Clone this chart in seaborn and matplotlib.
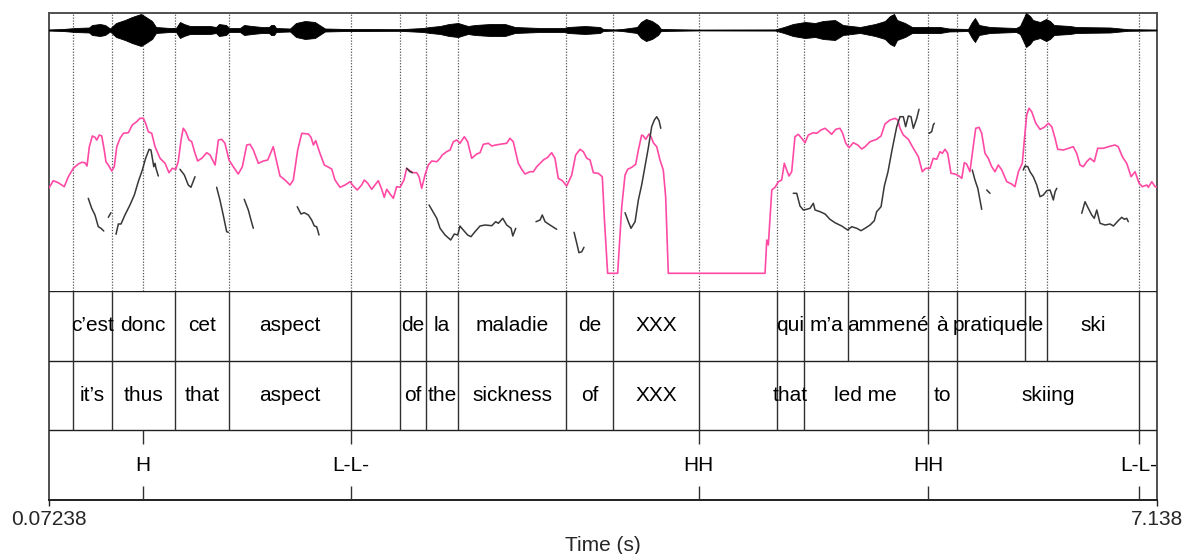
import numpy as np
import pandas as pd
import matplotlib
matplotlib.use("Agg")
import matplotlib.pyplot as plt
import seaborn as sns

# ---------------- data ----------------
T_START, T_END = 0.07238, 7.138

# French word tier (boundaries, s) and labels of the intervals between them
fr_bounds = [0.2287, 0.4730, 0.8755, 1.2199, 1.9988, 2.3107, 2.4772, 2.6845, 3.3728,
             3.6732, 4.2167, 4.7149, 4.8877, 5.1722, 5.6800, 5.8650, 6.2987, 6.4384, 7.0265]
fr_labels = ["", "c\u2019est", "donc", "cet", "aspect", "", "de", "la", "maladie", "de",
             "XXX", "", "qui", "m\u2019a", "ammené", "à", "pratique", "le", "ski", ""]

# English gloss tier
en_bounds = [0.2287, 0.4730, 0.8755, 1.2199, 1.9988, 2.3107, 2.4772, 2.6845, 3.3728,
             3.6732, 4.2167, 4.7149, 4.8877, 5.6800, 5.8650, 7.0265]
en_labels = ["", "it\u2019s", "thus", "that", "aspect", "", "of", "the", "sickness", "of",
             "XXX", "", "that", "led me", "to", "skiing", ""]

# Tone tier (points)
tone_times = [0.6752, 1.9988, 4.2167, 5.6800, 7.0265]
tone_labels = ["H", "L-L-", "HH", "HH", "L-L-"]

# Waveform amplitude envelope (arbitrary units)
wave_t = [0.0724, 0.163, 0.240, 0.329, 0.348, 0.399, 0.431, 0.463, 0.501, 0.558, 0.603,
          0.641, 0.661, 0.692, 0.731, 0.756, 0.845, 0.884, 0.909, 0.935, 0.973, 1.101,
          1.139, 1.158, 1.203, 1.222, 1.292, 1.318, 1.369, 1.432, 1.477, 1.490, 1.509,
          1.522, 1.611, 1.649, 1.707, 1.770, 1.809, 1.834, 1.968, 2.313, 2.338, 2.459,
          2.504, 2.568, 2.625, 2.683, 2.746, 2.791, 2.887, 2.982, 3.046, 3.206, 3.359,
          3.384, 3.493, 3.588, 3.608, 3.684, 3.729, 3.824, 3.850, 3.882, 3.920, 3.958,
          3.977, 4.226, 4.705, 4.762, 4.819, 4.896, 4.960, 5.011, 5.087, 5.138, 5.247,
          5.343, 5.406, 5.438, 5.464, 5.483, 5.534, 5.579, 5.674, 5.757, 5.815, 5.936,
          5.961, 5.980, 6.006, 6.076, 6.242, 6.267, 6.306, 6.331, 6.350, 6.395, 6.433,
          6.459, 6.484, 6.586, 6.625, 6.842, 6.956, 7.138]
wave_amp = [0.5, 1, 2, 2.5, 5, 6, 5, 1.5, 7, 10, 13,
            15, 16, 13, 9, 3, 2, 2, 8, 6, 4, 4,
            3, 6, 5, 2, 2, 5, 4, 3, 3, 5, 5,
            2, 1.5, 7, 9, 8, 4, 1.5, 1, 0.8, 1, 2,
            3, 4, 6, 7, 4, 5, 6, 6, 3, 2, 2,
            3, 4, 3, 1, 0.5, 1, 3, 8, 11, 9, 5,
            1, 0.3, 0.5, 3, 6, 8, 7, 9, 10, 5, 3,
            6, 9, 14, 16, 10, 7, 3, 3, 3, 1.5, 1,
            8, 12, 5, 3, 2, 4, 17, 14, 10, 8, 11,
            9, 5, 4, 3, 2.5, 0.8, 0.4]

# Smoothed pitch contour (pink), arbitrary level units
pink_t = [0.0724, 0.101, 0.133, 0.171, 0.197, 0.229, 0.261, 0.282, 0.303, 0.316, 0.331,
          0.350, 0.367, 0.378, 0.395, 0.410, 0.426, 0.437, 0.452, 0.474, 0.490, 0.506,
          0.527, 0.548, 0.580, 0.605, 0.633, 0.654, 0.675, 0.690, 0.707, 0.729, 0.750,
          0.782, 0.814, 0.839, 0.860, 0.882, 0.898, 0.916, 0.930, 0.946, 0.967, 0.984,
          1.005, 1.022, 1.048, 1.080, 1.101, 1.133, 1.154, 1.175, 1.196, 1.222, 1.249,
          1.281, 1.307, 1.335, 1.356, 1.377, 1.409, 1.441, 1.469, 1.504, 1.526, 1.547,
          1.579, 1.611, 1.632, 1.660, 1.686, 1.728, 1.745, 1.760, 1.775, 1.802, 1.830,
          1.877, 1.898, 1.930, 1.962, 1.994, 2.015, 2.040, 2.068, 2.085, 2.107, 2.132,
          2.153, 2.174, 2.196, 2.212, 2.228, 2.249, 2.270, 2.291, 2.313, 2.338, 2.355,
          2.376, 2.397, 2.419, 2.434, 2.451, 2.472, 2.493, 2.515, 2.547, 2.568, 2.582,
          2.610, 2.632, 2.653, 2.674, 2.695, 2.723, 2.744, 2.770, 2.802, 2.823, 2.844,
          2.876, 2.898, 2.923, 2.961, 2.993, 3.014, 3.035, 3.067, 3.089, 3.110, 3.142,
          3.163, 3.185, 3.206, 3.227, 3.255, 3.280, 3.301, 3.322, 3.348, 3.376, 3.408,
          3.433, 3.461, 3.482, 3.504, 3.525, 3.546, 3.577, 3.603, 3.616, 3.637, 3.701,
          3.727, 3.748, 3.765, 3.791, 3.816, 3.833, 3.854, 3.865, 3.880, 3.901, 3.914,
          3.928, 3.950, 3.971, 3.992, 4.007, 4.024, 4.641, 4.652, 4.662, 4.673, 4.684,
          4.705, 4.726, 4.747, 4.764, 4.779, 4.794, 4.811, 4.832, 4.853, 4.875, 4.896,
          4.917, 4.949, 4.971, 4.998, 5.024, 5.049, 5.066, 5.092, 5.119, 5.136, 5.156,
          5.177, 5.204, 5.232, 5.258, 5.279, 5.311, 5.353, 5.381, 5.406, 5.438, 5.470,
          5.487, 5.502, 5.523, 5.555, 5.587, 5.619, 5.644, 5.666, 5.693, 5.714, 5.736,
          5.757, 5.772, 5.789, 5.806, 5.827, 5.853, 5.878, 5.896, 5.912, 5.927, 5.948,
          5.966, 5.985, 6.006, 6.023, 6.044, 6.065, 6.087, 6.108, 6.129, 6.151, 6.183,
          6.214, 6.235, 6.257, 6.282, 6.295, 6.310, 6.325, 6.342, 6.368, 6.395, 6.422,
          6.448, 6.470, 6.491, 6.508, 6.544, 6.576, 6.607, 6.629, 6.650, 6.671, 6.693,
          6.714, 6.741, 6.763, 6.799, 6.831, 6.873, 6.894, 6.920, 6.948, 6.976, 7.001,
          7.027, 7.048, 7.076, 7.086, 7.108, 7.129, 7.138]
pink_v = [102.7, 110.3, 108.3, 104.3, 114.3, 122.7, 127, 128.7, 128.3, 125, 144.3,
          155, 153.7, 151, 156, 155, 141, 129.3, 126, 120, 124.3, 144.3,
          152.7, 157.7, 158.3, 166, 169.3, 172.7, 172.7, 167.7, 159.3, 157.7, 144.3,
          132.7, 127.7, 118.3, 122.7, 121.7, 129.3, 151, 162.7, 159.3, 151, 149.3,
          137.7, 130, 132.7, 138.3, 136, 126, 151, 151.7, 147.7, 131, 124.3,
          117, 124.3, 146, 146.7, 141, 127.7, 130, 131, 144.3, 129.3, 115,
          111, 106, 111, 141, 157.7, 157, 153.7, 146, 150.3, 137.7, 126,
          122, 111, 103.7, 106, 109.3, 105, 101, 106, 111, 107.7, 101.7,
          106, 110.3, 101.7, 93.7, 101.7, 97, 92.7, 104.3, 103.7, 111, 122.7,
          120.3, 118.3, 118.3, 114.3, 102.7, 116, 126, 130, 129.3, 132.7, 136,
          139.3, 141, 149.3, 151, 147.7, 154.3, 149.3, 132.7, 137, 138.3, 146.7,
          147.7, 145, 146, 147, 147.7, 152.7, 149.3, 127.7, 121.7, 117, 119.3,
          119.3, 124.3, 127.7, 131, 133.7, 138.3, 132.7, 112.7, 110.3, 105, 116,
          136, 141.7, 139.3, 132.7, 131, 118.3, 117.7, 114.3, 72.7, 17.7, 17.7,
          84.3, 116, 121.7, 123.7, 126.7, 141, 156, 155, 151.7, 157, 154.3,
          148.3, 144.3, 131, 121, 94.3, 17.7, 17.7, 51, 46, 74.3, 101,
          103.7, 109.3, 111, 127.7, 121, 115, 119.3, 154.3, 156.7, 152.7, 148.3,
          156, 158.3, 157.7, 161, 162.7, 159.3, 156.7, 161.7, 162.7, 157.7, 147.7,
          143.3, 148.3, 146, 142, 144.3, 149.3, 151.7, 155, 167, 171, 172.7,
          171, 162.7, 156, 151.7, 142.7, 134.3, 119.3, 122.7, 122.7, 132.7, 131.7,
          139.3, 137.7, 141.7, 137.7, 117.7, 117, 115, 112.7, 128.3, 127, 119.3,
          141, 162.7, 163.7, 157.7, 137.7, 132.7, 124.3, 119.3, 126, 121, 109.3,
          107, 104.3, 119.3, 127.7, 151, 176, 182.7, 179.3, 167.7, 161.7, 163.7,
          167.7, 164.3, 152.7, 141.7, 141, 142.7, 144.3, 137.7, 126, 124.3, 129.3,
          132.7, 129.3, 142.7, 142.7, 144.3, 146, 144.3, 134.3, 127.7, 114.3, 119.3,
          107.7, 104.3, 106, 103.7, 109.3, 104.3, 104]

# Raw F0 (black), voiced stretches only, same level units
f0_segments = [
    ([0.324, 0.346, 0.367, 0.388, 0.405, 0.423], [92.7, 82.7, 76, 64.3, 62.7, 60]),
    ([0.452, 0.469], [73.7, 78.3]),
    ([0.501, 0.516, 0.533, 0.558, 0.590, 0.618, 0.643, 0.669, 0.690, 0.712, 0.724, 0.733,
      0.742, 0.750, 0.756, 0.771],
     [56.7, 67, 67, 76, 86, 96, 109.3, 121, 132.7, 141.7, 141, 132.7, 124.3, 127.7, 122.7, 115]),
    ([0.909, 0.937, 0.962, 0.979, 1.005], [121.7, 116, 106, 103.7, 114.3]),
    ([1.143, 1.164, 1.185, 1.207, 1.217], [103.7, 91, 76, 59.3, 58.7]),
    ([1.319, 1.345, 1.362, 1.377], [91.7, 81, 71, 62.7]),
    ([1.657, 1.681, 1.702, 1.728, 1.749, 1.766, 1.781, 1.796], [84.3, 77, 78.3, 76, 71, 65, 64.3, 56]),
    ([2.355, 2.376, 2.391], [122.7, 119.3, 118.3]),
    ([2.498, 2.519, 2.547, 2.568, 2.600, 2.636, 2.659, 2.681, 2.695, 2.716, 2.744, 2.765,
      2.791, 2.823, 2.855, 2.898, 2.923, 2.940, 2.968, 2.993, 3.021, 3.032, 3.051],
     [86, 80.3, 72.7, 62.7, 56, 51, 57, 56, 65, 61, 56, 54.3,
      59.3, 65, 66, 65.3, 69.3, 67.7, 72.7, 66, 62.7, 55, 62.7]),
    ([3.180, 3.206, 3.220, 3.238, 3.269, 3.312], [69.3, 71, 76, 69.3, 66, 61.7]),
    ([3.423, 3.440, 3.454, 3.472, 3.486], [58.7, 47.7, 38.3, 39.3, 43.7]),
    ([3.748, 3.769, 3.786, 3.812, 3.833, 3.854, 3.875, 3.896, 3.918, 3.935, 3.950, 3.965, 3.976],
     [78.3, 69.3, 62.7, 69.3, 91, 106, 124.3, 142.7, 164.3, 171, 174.3, 170.3, 162.7]),
    ([4.821, 4.843, 4.864, 4.885, 4.907, 4.928, 4.949, 4.960, 4.992, 5.024, 5.055, 5.087,
      5.130, 5.168, 5.194, 5.226, 5.253, 5.279, 5.311, 5.338, 5.353, 5.381, 5.402, 5.425,
      5.451, 5.481, 5.502, 5.523, 5.538, 5.555, 5.572, 5.587, 5.609, 5.623],
     [97.7, 97.7, 85, 81, 81.7, 82.7, 87.7, 81, 79.3, 77, 71.7, 68.3,
      65, 61, 64.3, 62.7, 60.3, 62.7, 66, 70.3, 79.3, 84.3, 105, 119,
      141, 164.3, 174.3, 174.3, 164.3, 175, 174.3, 162.7, 172.7, 181.7]),
    ([5.687, 5.704, 5.714, 5.721], [157.7, 159.3, 166, 167.7]),
    ([5.963, 5.980, 5.998, 6.012, 6.023], [121, 111, 102.7, 91, 81.7]),
    ([6.055, 6.076], [101, 97.7]),
    ([6.288, 6.299, 6.317, 6.331, 6.352, 6.374, 6.395, 6.416, 6.438, 6.459, 6.470, 6.480,
      6.491, 6.502],
     [121, 125, 124.3, 119.3, 114.3, 106, 94.3, 96, 100.3, 101, 96, 91, 99.3, 102.7]),
    ([6.661, 6.682, 6.703, 6.725, 6.741, 6.757, 6.778, 6.810, 6.842, 6.863, 6.894, 6.916,
      6.933, 6.948, 6.958],
     [77.7, 89.3, 82.7, 76, 72.7, 81, 67.7, 66, 67, 65, 70.3, 73.7, 71.7, 72.7, 69.3]),
]

# ---------------- style ----------------
sns.set_theme(style="white")
plt.rcParams["font.family"] = ["Liberation Sans", "DejaVu Sans"]
FS = 15
PINK = "#FF4AA5"
DARK = "#383838"

W_PX, H_PX = 1183, 554
fig = plt.figure(figsize=(W_PX / 100, H_PX / 100), dpi=100)
fig.patch.set_facecolor("white")

x0, x1 = 48.8, 1156.5
y_top, y_wave, y_tier, y_bot = 13.3, 46.7, 291.0, 500.0
L = x0 / W_PX
Wd = (x1 - x0) / W_PX


def box(ytop, ybot):
    return [L, 1 - ybot / H_PX, Wd, (ybot - ytop) / H_PX]


ax_frame = fig.add_axes(box(y_top, y_bot))
ax_wave = fig.add_axes(box(y_top, y_wave))
ax_pitch = fig.add_axes(box(y_wave, y_tier))
ax_tg = fig.add_axes(box(y_tier, y_bot))

for ax in (ax_frame, ax_wave, ax_pitch, ax_tg):
    ax.set_xlim(T_START, T_END)
    ax.set_facecolor("none")
    ax.set_yticks([])

for ax in (ax_wave, ax_pitch, ax_tg):
    for s in ax.spines.values():
        s.set_visible(False)

for s in ax_frame.spines.values():
    s.set_color("#505050")
    s.set_linewidth(1.4)
ax_frame.spines["bottom"].set_color("#202020")
ax_frame.set_xticks([])

# dotted boundary lines across sound and pitch area
all_marks = sorted(set(fr_bounds) | set(en_bounds) | set(tone_times))
for ax in (ax_wave, ax_pitch):
    for b in all_marks:
        ax.axvline(b, color="#555555", lw=0.9, ls=(0, (1, 1.3)), zorder=1)

# waveform
ax_wave.fill_between(wave_t, [-a for a in wave_amp], wave_amp, color="black", lw=0.6,
                     edgecolor="black", zorder=3)
ax_wave.axhline(0, color="black", lw=1.0, zorder=3)
ax_wave.set_ylim(-16.7, 16.7)
ax_wave.set_xticks([])

# pitch curves
pink_df = pd.DataFrame({"time": pink_t, "level": pink_v})
sns.lineplot(data=pink_df, x="time", y="level", ax=ax_pitch, color=PINK, lw=1.2,
             sort=False, estimator=None, zorder=4)
rows = []
for i, (ts, vs) in enumerate(f0_segments):
    for t, v in zip(ts, vs):
        rows.append({"time": t, "level": v, "segment": i})
f0_df = pd.DataFrame(rows)
sns.lineplot(data=f0_df, x="time", y="level", units="segment", estimator=None, ax=ax_pitch,
             color=DARK, lw=1.1, zorder=5, sort=False)
ax_pitch.set_ylim(0, y_tier - y_wave)
ax_pitch.set_xlim(T_START, T_END)
ax_pitch.set_xlabel("")
ax_pitch.set_ylabel("")
ax_pitch.set_xticks([])

# text grid
ax_tg.set_ylim(0, 3)
for yline in (1, 2, 3):
    ax_tg.axhline(yline, color="#202020", lw=1.0)


def draw_interval_tier(bounds, labels, ylo):
    ax_tg.vlines(bounds, ylo, ylo + 1, color="#303030", lw=1.0)
    edges = [T_START] + list(bounds) + [T_END]
    for a, b, lab in zip(edges[:-1], edges[1:], labels):
        if lab:
            ax_tg.text((a + b) / 2, ylo + 0.5, lab, ha="center", va="center",
                       fontsize=FS, color="black")


draw_interval_tier(fr_bounds, fr_labels, 2)
draw_interval_tier(en_bounds, en_labels, 1)
ax_tg.vlines(tone_times, 0, 0.2, color="#303030", lw=1.0)
ax_tg.vlines(tone_times, 0.8, 1.0, color="#303030", lw=1.0)
for t, lab in zip(tone_times, tone_labels):
    ax_tg.text(t, 0.5, lab, ha="center", va="center", fontsize=FS, color="black")

ax_tg.set_xticks([T_START, T_END])
ax_tg.set_xticklabels(["0.07238", "7.138"], fontsize=FS)
ax_tg.tick_params(axis="x", direction="out", length=4, width=1.0, pad=3,
                  color="#202020", bottom=True)
ax_tg.set_xlabel("Time (s)", fontsize=FS, labelpad=5)

fig.savefig("out.png", dpi=100, facecolor="white")
